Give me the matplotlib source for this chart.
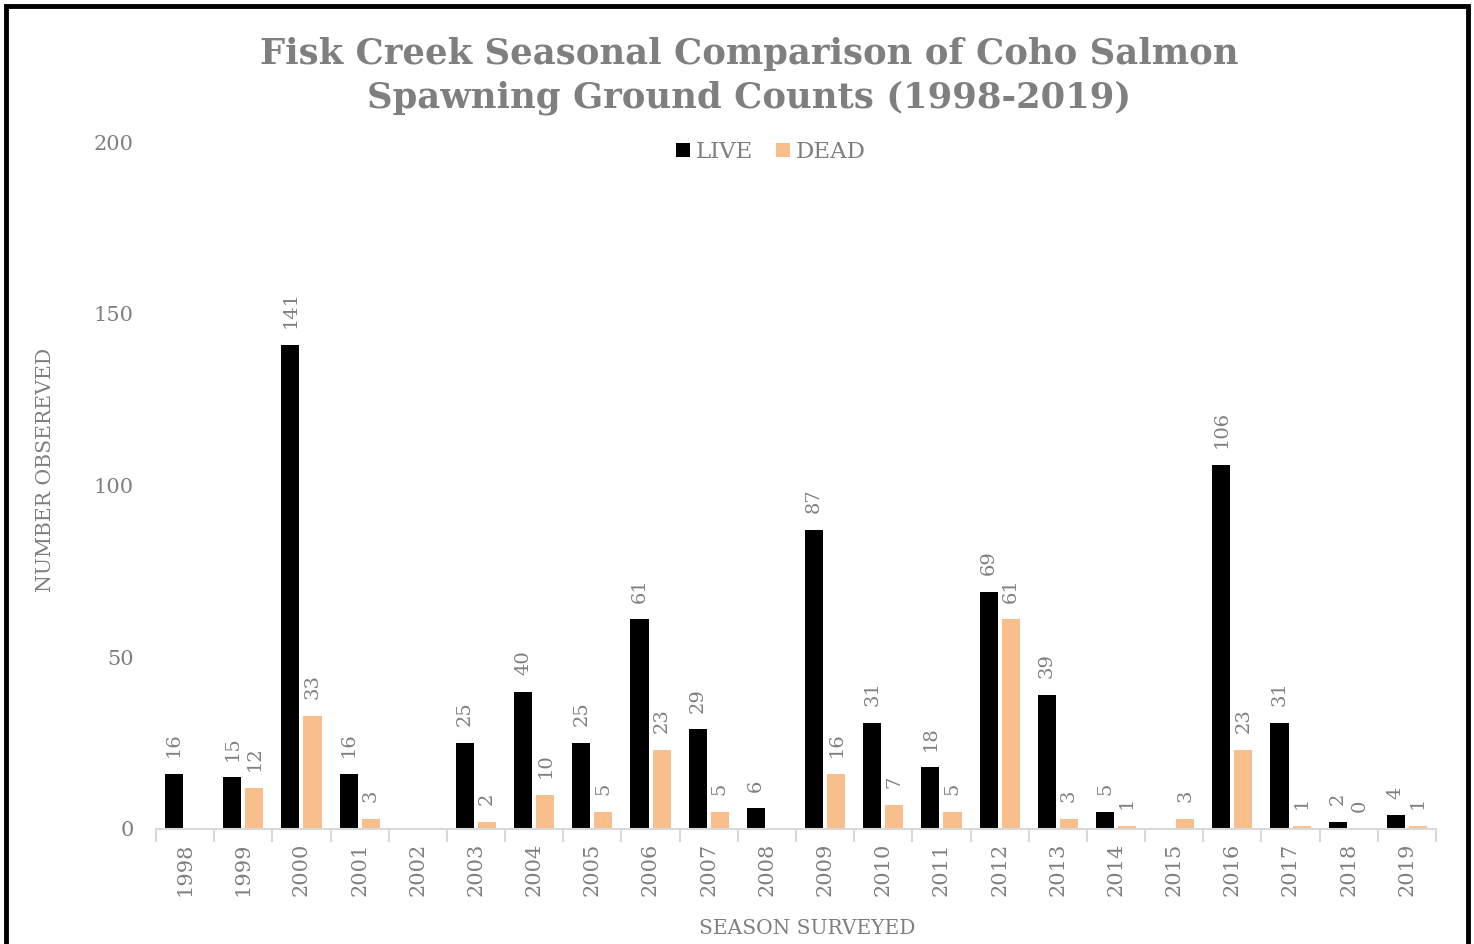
import numpy as np
import matplotlib.pyplot as plt
from matplotlib.patches import Rectangle

years = [str(y) for y in range(1998, 2020)]
live = [16, 15, 141, 16, None, 25, 40, 25, 61, 29, 6, 87, 31, 18, 69, 39, 5, None, 106, 31, 2, 4]
dead = [None, 12, 33, 3, None, 2, 10, 5, 23, 5, None, 16, 7, 5, 61, 3, 1, 3, 23, 1, 0, 1]

GRAY = '#7f7f7f'
LIVE_C = '#000000'
DEAD_C = '#f8bf8c'
plt.rcParams['font.family'] = ['DejaVu Serif']

fig = plt.figure(figsize=(14.74, 9.44), dpi=100)
ax = fig.add_axes([156/1474, 1 - 829/944, (1436-156)/1474, (829-142)/944])

x = np.arange(len(years))
w = 0.31
off = 0.19

def vals(s):
    return [np.nan if v is None else v for v in s]

b1 = ax.bar(x - off, vals(live), w, color=LIVE_C, label='LIVE')
b2 = ax.bar(x + off, vals(dead), w, color=DEAD_C, label='DEAD')

for bars, s in ((b1, live), (b2, dead)):
    for rect, v in zip(bars, s):
        if v is None:
            continue
        ax.annotate(str(v), (rect.get_x() + rect.get_width()/2, v),
                    xytext=(0, 12), textcoords='offset points',
                    rotation=90, ha='center', va='bottom',
                    color=GRAY, fontsize=14)

ax.set_xlim(-0.5, len(years) - 0.5)
ax.set_ylim(0, 200)
ax.set_yticks([0, 50, 100, 150, 200])
ax.tick_params(axis='y', length=0, labelsize=15, labelcolor=GRAY, pad=16)
ax.set_xticks(x)
ax.set_xticklabels(years, rotation=90)
ax.tick_params(axis='x', length=0, labelsize=15, labelcolor=GRAY, pad=10)
# tick marks between categories
ax.set_xticks(np.arange(-0.5, len(years)), minor=True)
ax.tick_params(axis='x', which='minor', length=9, color='#d9d9d9', width=1.5)

for s in ('top', 'right', 'left'):
    ax.spines[s].set_visible(False)
ax.spines['bottom'].set_color('#d9d9d9')
ax.spines['bottom'].set_linewidth(1.5)

ax.set_ylabel('NUMBER OBSEREVED', color=GRAY, fontsize=14.7)
ax.yaxis.set_label_coords(-0.079, 0.5226)
ax.set_xlabel('SEASON SURVEYED', color=GRAY, fontsize=14.5)
ax.xaxis.set_label_coords(0.509, -0.1305)

fig.text(0.508, 1 - 76/944, 'Fisk Creek Seasonal Comparison of Coho Salmon\nSpawning Ground Counts (1998-2019)',
         ha='center', va='center', fontsize=25.5, fontweight='bold', color=GRAY, linespacing=1.38)

fig.legend(handles=[b1, b2], loc='center', bbox_to_anchor=(0.523, 1 - 152/944),
           ncol=2, frameon=False, fontsize=16.5, labelcolor=GRAY,
           handlelength=0.6, handleheight=0.6, handletextpad=0.25, columnspacing=1.0)

fig.patches.append(Rectangle((6/1474, -0.05), (1462)/1474, 1.05 - 6/944,
                             transform=fig.transFigure, fill=False,
                             edgecolor='black', linewidth=3.5))

fig.savefig('out.png', dpi=100)
